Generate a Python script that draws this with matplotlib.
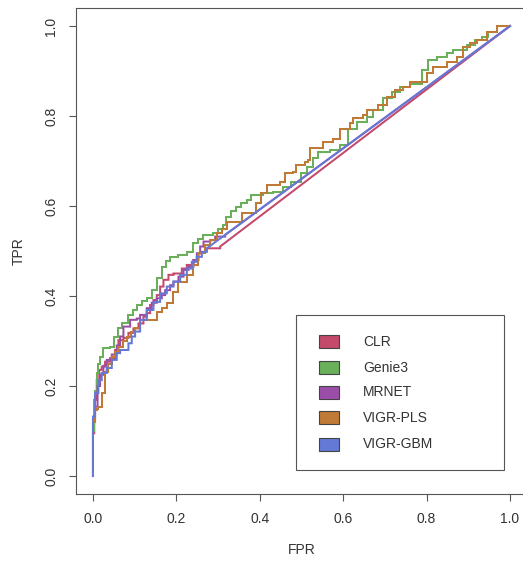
import numpy as np
import matplotlib as mpl
import matplotlib.pyplot as plt
from matplotlib.patches import Rectangle

mpl.rcParams.update({
    "font.family": ["Liberation Sans", "DejaVu Sans"],
    "font.size": 10,
})

# ROC step curves (FPR, TPR corner points)
clr_fpr = [0, 0, .003, .009, .015, .021, .029, .041, .053, .061, .073, .085, .097, .109,
           .121, .129, .137, .145, .153, .161, .169, .181, .193, .213, .225, .241, .253,
           .261, .269, .273, .305]
clr_tpr = [0, .095, .169, .213, .236, .243, .254, .262, .28, .302, .307, .318, .328, .339,
           .354, .362, .38, .391, .402, .421, .436, .447, .45, .461, .469, .48, .495,
           .498, .502, .506, .51]

genie_fpr = [0, 0, .002, .005, .009, .013, .017, .024, .041, .05, .06, .07, .084, .095,
             .105, .117, .129, .141, .153, .165, .175, .185, .204, .225, .24, .252, .264,
             .288, .30, .312, .32, .332, .344, .356, .369, .38, .408, .432, .456, .476,
             .50, .512, .528, .54, .568, .592, .612, .632, .656, .672, .696, .716, .736,
             .76, .788, .804, .824, .848, .864, .88, .896, .916, .932, .948, .968, 1.0]
genie_tpr = [0, .10, .147, .19, .229, .25, .264, .284, .287, .31, .329, .34, .358, .37,
             .38, .388, .395, .413, .44, .465, .478, .487, .491, .498, .517, .527, .535,
             .54, .55, .558, .576, .588, .598, .606, .613, .624, .628, .632, .643, .654,
             .673, .687, .706, .72, .724, .736, .772, .787, .798, .813, .839, .854, .865,
             .872, .902, .924, .932, .94, .947, .947, .958, .969, .975, .987, 1.0, 1.0]

mrnet_fpr = [0, 0, .005, .011, .017, .025, .033, .045, .057, .065, .073, .089, .105, .113,
             .129, .141, .153, .165, .173, .185, .193, .205, .217, .229, .241, .249, .257,
             .265, .281, .293, .317]
mrnet_tpr = [0, .12, .154, .2, .225, .245, .258, .27, .29, .31, .332, .347, .35, .358,
             .373, .385, .395, .402, .413, .424, .432, .443, .458, .465, .48, .495, .51,
             .521, .524, .532, .536]

pls_fpr = [0, 0, .005, .009, .013, .021, .029, .037, .045, .053, .061, .071, .081, .091,
           .101, .113, .153, .165, .177, .193, .205, .225, .241, .253, .269, .281, .297,
           .309, .321, .358, .392, .404, .418, .448, .46, .48, .488, .508, .516, .52,
           .552, .576, .592, .616, .624, .648, .656, .684, .704, .724, .744, .76, .784,
           .80, .816, .848, .872, .888, .904, .92, .944, .968, 1.0]
pls_tpr = [0, .12, .147, .15, .154, .184, .232, .25, .265, .275, .287, .30, .31, .32,
           .328, .347, .365, .373, .385, .41, .432, .447, .469, .495, .513, .524, .539,
           .55, .565, .584, .606, .628, .647, .654, .673, .676, .691, .698, .702, .728,
           .743, .75, .772, .784, .795, .802, .813, .824, .843, .858, .865, .876, .876,
           .895, .91, .921, .932, .954, .962, .969, .987, 1.0, 1.0]

gbm_fpr = [0, 0, .005, .013, .021, .033, .045, .057, .065, .085, .093, .101, .113, .129,
           .145, .161, .177, .193, .209, .225, .237, .249, .261, .273]
gbm_tpr = [0, .132, .184, .213, .229, .24, .258, .273, .28, .295, .31, .321, .347, .369,
           .387, .406, .421, .432, .447, .461, .476, .487, .498, .506]

methods = ["CLR", "Genie3", "MRNET", "VIGR-PLS", "VIGR-GBM"]
colors = ["#c4496a", "#6aaf5a", "#9b4ea8", "#c07a35", "#6479d6"]
curves = [(clr_fpr, clr_tpr), (genie_fpr, genie_tpr), (mrnet_fpr, mrnet_tpr),
          (pls_fpr, pls_tpr), (gbm_fpr, gbm_tpr)]

fig = plt.figure(figsize=(5.23, 5.65), dpi=100)
ax = fig.add_axes([76.3 / 523, 71 / 565, 450.4 / 523, 486 / 565])

for (fpr, tpr), col in zip(curves, colors):
    x = np.repeat(fpr, 2)[1:]
    y = np.repeat(tpr, 2)[:-1]
    if fpr[-1] < 1:
        # curve stops early, straight line to the corner
        x = np.append(x, 1.0)
        y = np.append(y, 1.0)
    ax.plot(x, y, color=col, lw=1.45, solid_joinstyle="miter")

ax.set_xlim(-0.04, 1.04)
ax.set_ylim(-0.04, 1.04)
ticks = [0.0, 0.2, 0.4, 0.6, 0.8, 1.0]
ax.set_xticks(ticks)
ax.set_yticks(ticks)
ax.set_xticklabels(["%.1f" % t for t in ticks])
ax.set_yticklabels(["%.1f" % t for t in ticks], rotation=90, va="center")
ax.tick_params(direction="out", length=5, width=0.8, color="#555555",
               labelcolor="#333333", labelsize=10, pad=8)
for s in ax.spines.values():
    s.set_color("#555555")
    s.set_linewidth(0.8)
ax.set_xlabel("FPR", color="#333333", labelpad=12)
ax.set_ylabel("TPR", color="#333333", labelpad=13)

# legend box drawn by hand, R style
ax.add_patch(Rectangle((0.487, 0.013), 0.499, 0.345, fill=False,
                       edgecolor="#555555", lw=0.8, zorder=5))
rows = [0.298, 0.241, 0.186, 0.129, 0.071]
for name, col, yy in zip(methods, colors, rows):
    ax.add_patch(Rectangle((0.543, yy - 0.0145), 0.048, 0.029, facecolor=col,
                           edgecolor="#444444", lw=0.8, zorder=6))
    ax.text(0.648, yy, name, va="center", ha="left", color="#333333",
            fontsize=10, zorder=6)

fig.savefig("out.png", dpi=100)
